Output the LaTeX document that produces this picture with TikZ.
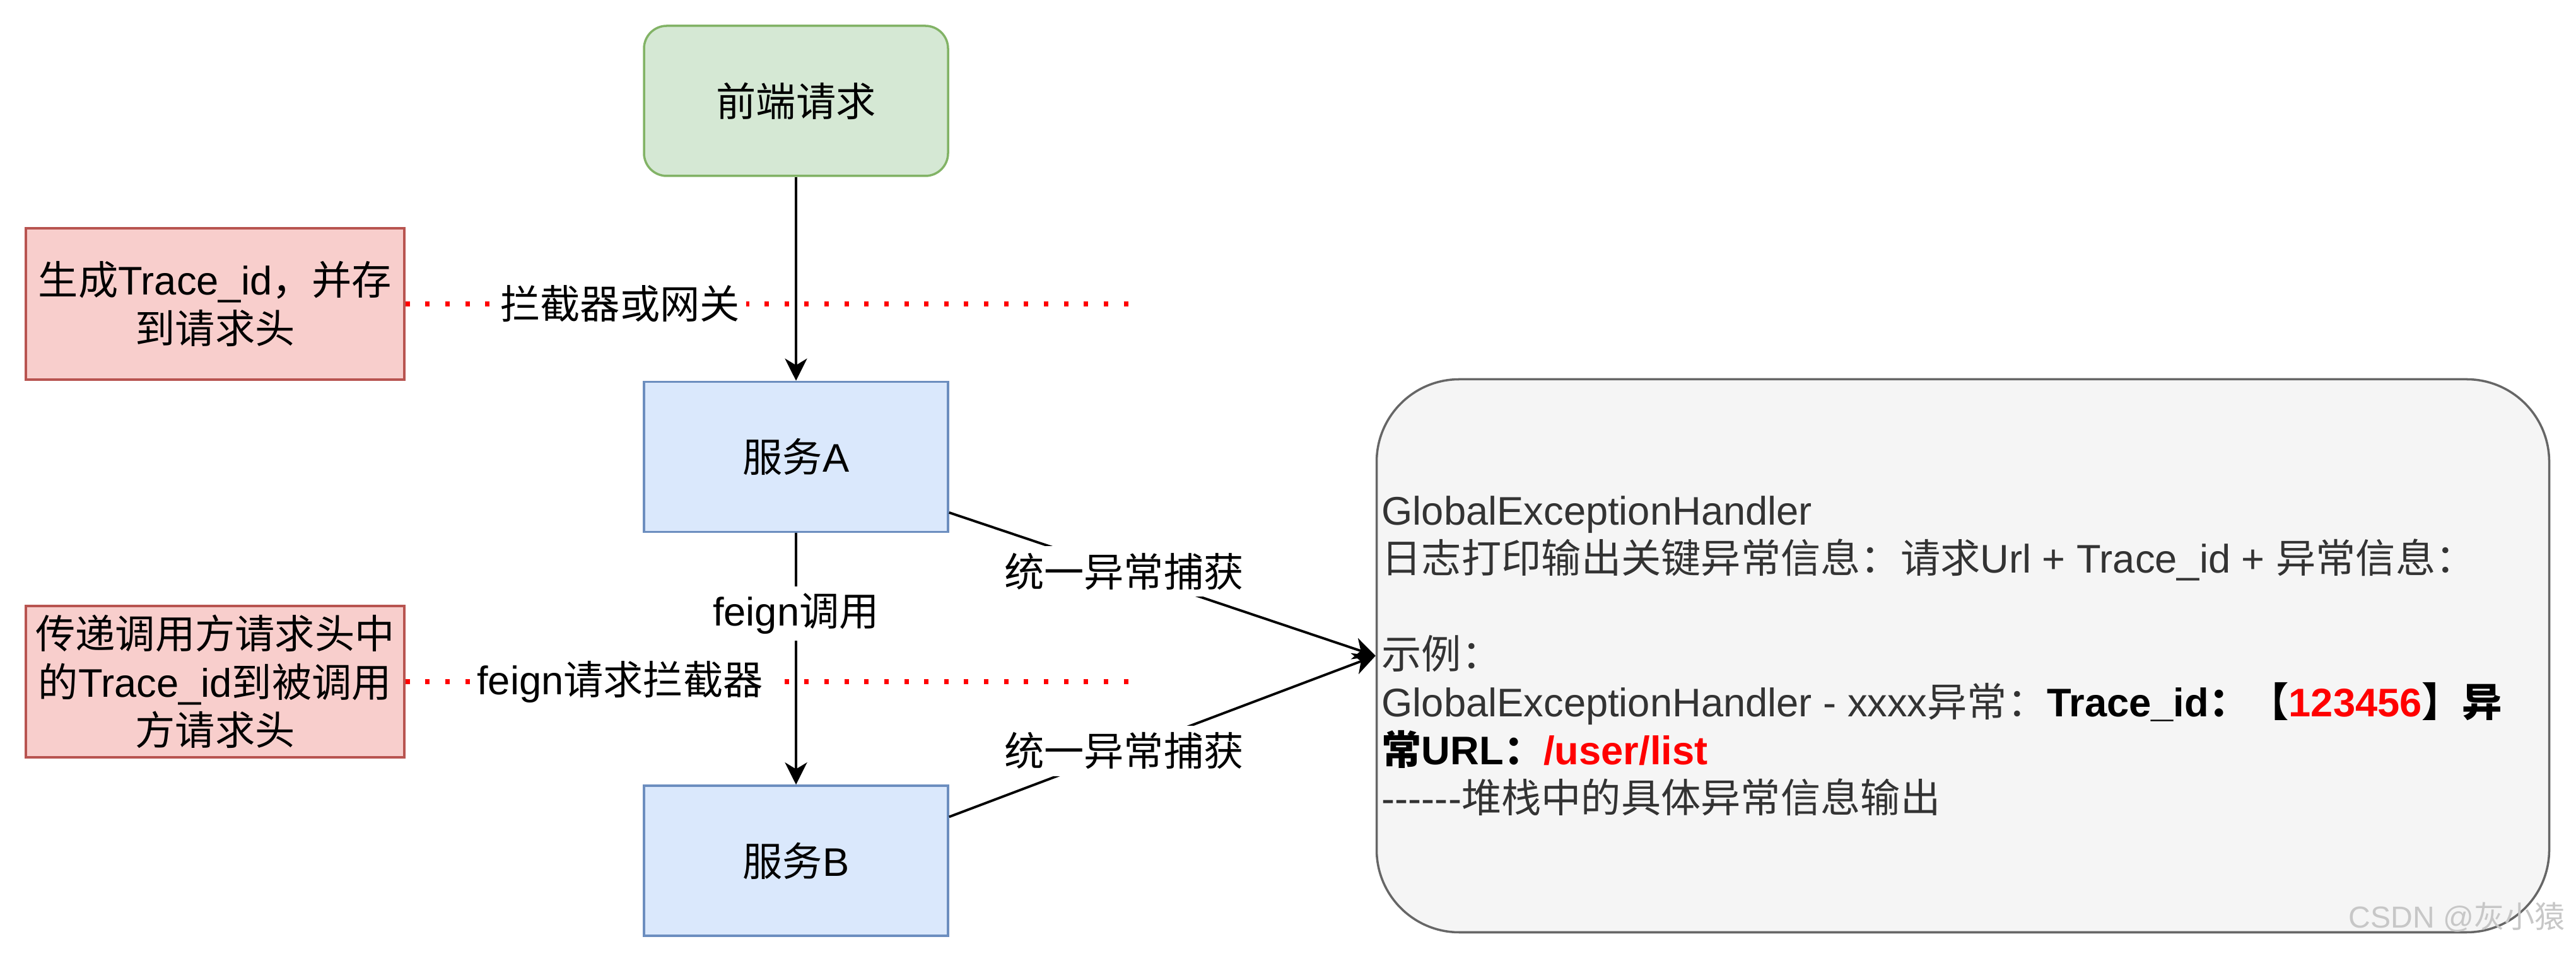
\documentclass[tikz,border=0pt]{standalone}
\usepackage{fontspec}
\setmainfont{Liberation Sans}
\newfontfamily\zh{Noto Sans CJK SC}
\usepackage{xcolor}
\usetikzlibrary{positioning, arrows.meta}

\definecolor{greenfill}{HTML}{D5E8D4}
\definecolor{greenline}{HTML}{82B366}
\definecolor{bluefill}{HTML}{DAE8FC}
\definecolor{blueline}{HTML}{6C8EBF}
\definecolor{redfill}{HTML}{F8CECC}
\definecolor{redline}{HTML}{B85450}
\definecolor{greyfill}{HTML}{F5F5F5}
\definecolor{greyline}{HTML}{666666}
\definecolor{greytext}{HTML}{333333}

\begin{document}
\begin{tikzpicture}[
            base/.style={draw, line width=1pt, align=center, font=\fontsize{18}{21.8}\selectfont},
            service/.style={base, rectangle, fill=bluefill, draw=blueline, minimum width=4.82cm, minimum height=2.38cm},
            request/.style={base, rectangle, rounded corners=0.36cm, fill=greenfill, draw=greenline, minimum width=4.82cm, minimum height=2.38cm},
            note/.style={base, rectangle, fill=redfill, draw=redline, minimum width=6.0cm, minimum height=2.4cm},
            logbox/.style={draw=greyline, line width=1pt, fill=greyfill, rounded corners=1.31cm, minimum width=18.59cm, minimum height=8.77cm},
            tag/.style={fill=white, text=black, inner sep=3pt, font=\fontsize{18}{21.8}\selectfont},
            arrow/.style={-{Stealth[length=10pt, width=10pt, inset=3pt]}, line width=1.1pt},
            dots/.style={red, line width=2pt, dash pattern=on 2pt off 7pt}
        ]
            \useasboundingbox (0,0) rectangle (40.84,15.24);

            \node[request] (req) at (12.62,13.64) {{\zh 前端请求}};
            \node[service, below=3.23cm of req] (svcA) {{\zh 服务}A};
            \node[service, below=3.99cm of svcA] (svcB) {{\zh 服务}B};

            \node[note] (gen) at (3.41,10.42) {{\zh 生成}Trace\_id{\zh ，并存}\\{\zh 到请求头}};
            \node[note] (pass) at (3.41,4.43) {{\zh 传递调用方请求头中}\\{\zh 的}Trace\_id{\zh 到被调用}\\{\zh 方请求头}};

            \node[logbox] (log) at (31.12,4.84) {};
            \node[anchor=west, align=left, inner sep=0pt, text=greytext, font=\fontsize{18}{21.6}\selectfont] (logtext) at (21.90,4.84) {GlobalExceptionHandler\\
                {\zh 日志打印输出关键异常信息：请求}Url + Trace\_id + {\zh 异常信息：}\\
                \mbox{}\\
                {\zh 示例：}\\
                GlobalExceptionHandler - xxxx{\zh 异常：}\textbf{\color{black}Trace\_id{\zh ：【}\color{red}123456\color{black}{\zh 】异}}\\
                \textbf{\color{black}{\zh 常}URL{\zh ：}\color{red}/user/list}\\
                \mbox{-}\mbox{-}\mbox{-}\mbox{-}\mbox{-}\mbox{-}{\zh 堆栈中的具体异常信息输出}};

            \coordinate (gwend) at (18.0,10.42);
            \coordinate (fend) at (18.0,4.43);

            % interceptor levels
            \draw[dots] (gen.east) -- node[tag, pos=0.294] {{\zh 拦截器或网关}} (gwend);
            \draw[dots] (pass.east) -- node[tag, pos=0.294] {feign{\zh 请求拦截器}} (fend);

            \draw[arrow] (req) -- (svcA);
            \draw[arrow] (svcA) -- node[tag, pos=0.32] {feign{\zh 调用}} (svcB);
            \draw[arrow] (svcA.-20) -- node[tag, pos=0.41] {{\zh 统一异常捕获}} (log.west);
            \draw[arrow] (svcB.16) -- node[tag, pos=0.41] {{\zh 统一异常捕获}} (log.west);

            \node[text=black!22, font=\fontsize{13.7}{16}\selectfont] (mark) at (38.95,0.69) {CSDN @{\zh 灰小猿}};

        \end{tikzpicture}
\end{document}
